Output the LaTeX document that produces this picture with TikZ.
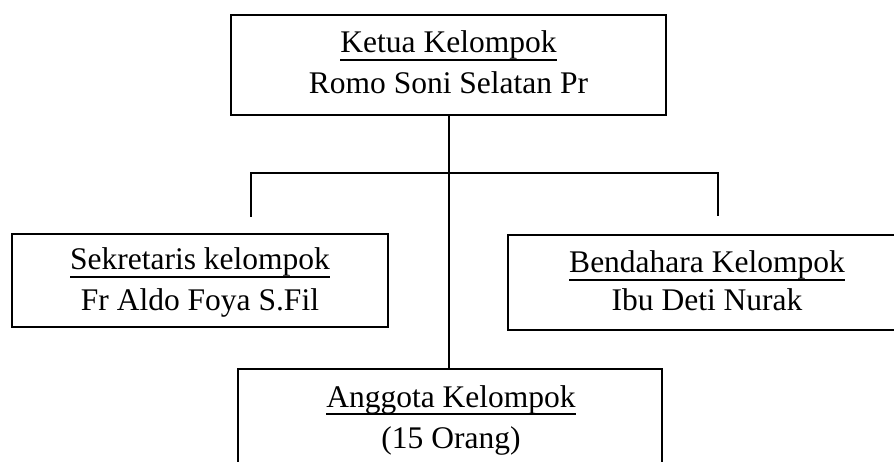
\documentclass[tikz,border=0pt]{standalone}
\usepackage{fontspec}
\setmainfont{Liberation Serif}
\newcommand\myul[1]{\setbox0\hbox{#1}\rlap{\rule[-7.8pt]{\wd0}{1.7pt}}\box0}
\begin{document}
\begin{tikzpicture}[x=1pt,y=-1pt,
  box/.style={draw=black,line width=1.7pt,rectangle,inner sep=0pt},
  txt/.style={anchor=base,inner sep=0pt,font=\fontsize{31.5}{41}\selectfont},
  conn/.style={draw=black,line width=1.7pt}]
\useasboundingbox (0,0) rectangle (894,462);
\clip (0,0) rectangle (894,462);
% boxes
\node[box,minimum width=435pt,minimum height=100pt] (top) at (448.5,65) {};
\node[box,minimum width=376pt,minimum height=93pt] (sek) at (200,280.5) {};
\node[box,minimum width=398pt,minimum height=95pt] (ben) at (707,282.5) {};
\node[box,minimum width=424pt,minimum height=130pt] (ang) at (450,434) {};
% texts
\node[txt] (t1) at (448.5,53) {\myul{Ketua Kelompok}};
\node[txt] (t2) at (448.5,94) {Romo Soni Selatan Pr};
\node[txt] (s1) at (200,270) {\myul{Sekretaris kelompok}};
\node[txt] (s2) at (200,310) {Fr Aldo Foya S.Fil};
\node[txt] (b1) at (707,273) {\myul{Bendahara Kelompok}};
\node[txt] (b2) at (707,311) {Ibu Deti Nurak};
\node[txt] (a1) at (451,407) {\myul{Anggota Kelompok}};
\node[txt] (a2) at (451,448) {(15 Orang)};
% connectors
\coordinate (j) at (449,173);
\coordinate (hl) at (251,173);
\coordinate (hr) at (718,173);
\coordinate (dl) at (251,217);
\coordinate (dr) at (718,216);
\draw[conn] (j |- top.south) -- (j |- ang.north);
\draw[conn] (dl) -- (hl) -- (hr) -- (dr);
\end{tikzpicture}
\end{document}
